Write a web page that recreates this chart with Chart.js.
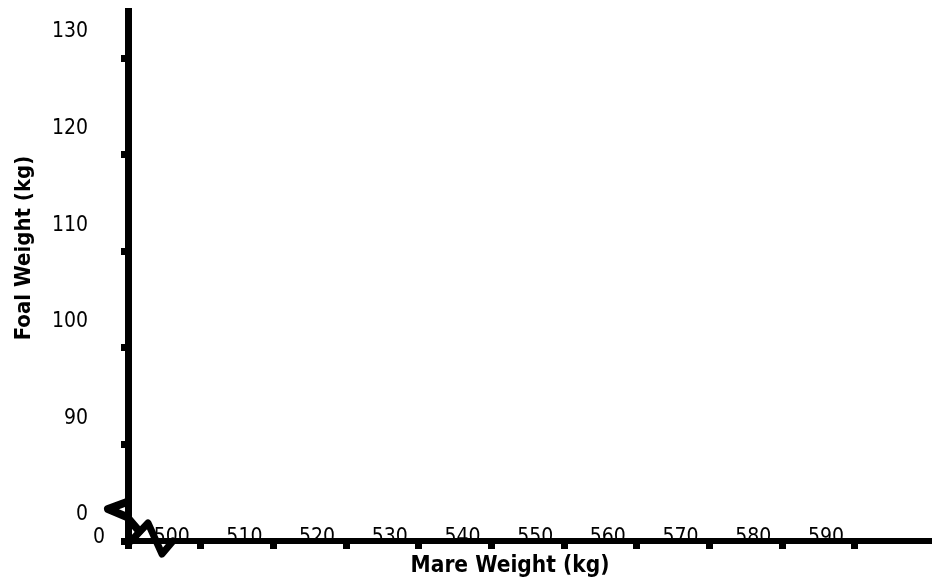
<!DOCTYPE html>
<html>
<head>
<meta charset="utf-8">
<script src="https://cdn.jsdelivr.net/npm/chart.js@4/dist/chart.umd.min.js"></script>
<style>
  html, body { margin: 0; padding: 0; background: #fff; }
  #wrap { width: 932px; height: 584px; }
</style>
</head>
<body>
<div id="wrap"><canvas id="c" width="932" height="584"></canvas></div>
<script>
// ── Data ────────────────────────────────────────────────────────────────────
// the reference plots no points, only the (broken) axes
const mareWeights = [];
const foalWeights = [];

const xTicks = [490, 500, 510, 520, 530, 540, 550, 560, 570, 580, 590];
const xTickLabels = ["0", "500", "510", "520", "530", "540", "550", "560", "570", "580", "590"];
const yTicks = [80, 90, 100, 110, 120, 130];
const yTickLabels = ["0", "90", "100", "110", "120", "130"];

const xTitle = "Mare Weight (kg)";
const yTitle = "Foal Weight (kg)";

// ── Style ───────────────────────────────────────────────────────────────────
const FONT = '"DejaVu Sans Condensed", "DejaVu Sans", sans-serif';
const ink = "#000";

const noPad = (s) => { s.paddingTop = 0; s.paddingBottom = 0; s.paddingLeft = 0; s.paddingRight = 0; };

// zigzag axis-break marks at the origin
const breakMarks = {
  id: "breakMarks",
  afterDraw(chart) {
    const { ctx, scales: { x, y } } = chart;
    const ox = x.getPixelForValue(xTicks[0]);
    const oy = y.getPixelForValue(yTicks[0]);
    ctx.save();
    ctx.strokeStyle = ink;
    ctx.lineWidth = 8;
    ctx.lineJoin = "round";
    ctx.lineCap = "round";
    ctx.beginPath();
    ctx.moveTo(ox - 1, oy - 39);
    ctx.lineTo(ox - 20, oy - 32);
    ctx.lineTo(ox - 1, oy - 24);
    ctx.lineTo(ox + 11, oy - 10);
    ctx.stroke();
    ctx.lineWidth = 7;
    ctx.beginPath();
    ctx.moveTo(ox + 3, oy);
    ctx.lineTo(ox + 20, oy - 18);
    ctx.lineTo(ox + 34, oy + 13);
    ctx.lineTo(ox + 45, oy);
    ctx.stroke();
    ctx.restore();
  },
};

// axis titles, placed like the reference (a little off the axis centres)
const axisTitles = {
  id: "axisTitles",
  afterDraw(chart) {
    const { ctx, chartArea: a } = chart;
    ctx.save();
    ctx.fillStyle = ink;
    ctx.textAlign = "center";
    ctx.textBaseline = "middle";
    ctx.font = `bold 22.5px ${FONT}`;
    ctx.fillText(xTitle, (a.left + a.right) / 2 - 20, chart.height - 18);
    ctx.font = `bold 22px ${FONT}`;
    ctx.translate(24, (a.top + a.bottom) / 2 - 28);
    ctx.rotate(-Math.PI / 2);
    ctx.fillText(yTitle, 0, 0);
    ctx.restore();
  },
};

new Chart(document.getElementById("c"), {
  type: "scatter",
  data: {
    datasets: [{
      data: mareWeights.map((m, i) => ({ x: m, y: foalWeights[i] })),
      backgroundColor: ink, pointRadius: 4,
    }],
  },
  options: {
    responsive: false,
    animation: false,
    layout: { padding: { top: 11, right: 0, left: 0, bottom: 0 } },
    plugins: { legend: { display: false }, tooltip: { enabled: false } },
    scales: {
      x: {
        type: "linear",
        min: 490, max: 600.6,
        afterBuildTicks: (s) => { s.ticks = xTicks.map((v) => ({ value: v })); },
        afterFit: (s) => { s.height = 43; noPad(s); },
        border: { color: ink, width: 6 },
        grid: { drawOnChartArea: false, drawTicks: true, tickLength: 8, tickWidth: 7, tickColor: ink },
        ticks: {
          autoSkip: false, maxRotation: 0, color: ink, mirror: true,
          font: { family: FONT, size: 21 },
          padding: -9, labelOffset: -29,
          callback: (v) => xTickLabels[xTicks.indexOf(v)],
        },
      },
      y: {
        type: "linear",
        min: 80, max: 134.87,
        afterBuildTicks: (s) => { s.ticks = yTicks.map((v) => ({ value: v })); },
        afterFit: (s) => { s.width = 128; noPad(s); },
        border: { color: ink, width: 7 },
        grid: { drawOnChartArea: false, drawTicks: true, tickLength: 7, tickWidth: 7, tickColor: ink },
        ticks: {
          autoSkip: false, color: ink,
          font: { family: FONT, size: 21 },
          padding: 33, labelOffset: -26,
          callback: (v) => yTickLabels[yTicks.indexOf(v)],
        },
      },
    },
  },
  plugins: [breakMarks, axisTitles],
});
</script>
</body>
</html>
